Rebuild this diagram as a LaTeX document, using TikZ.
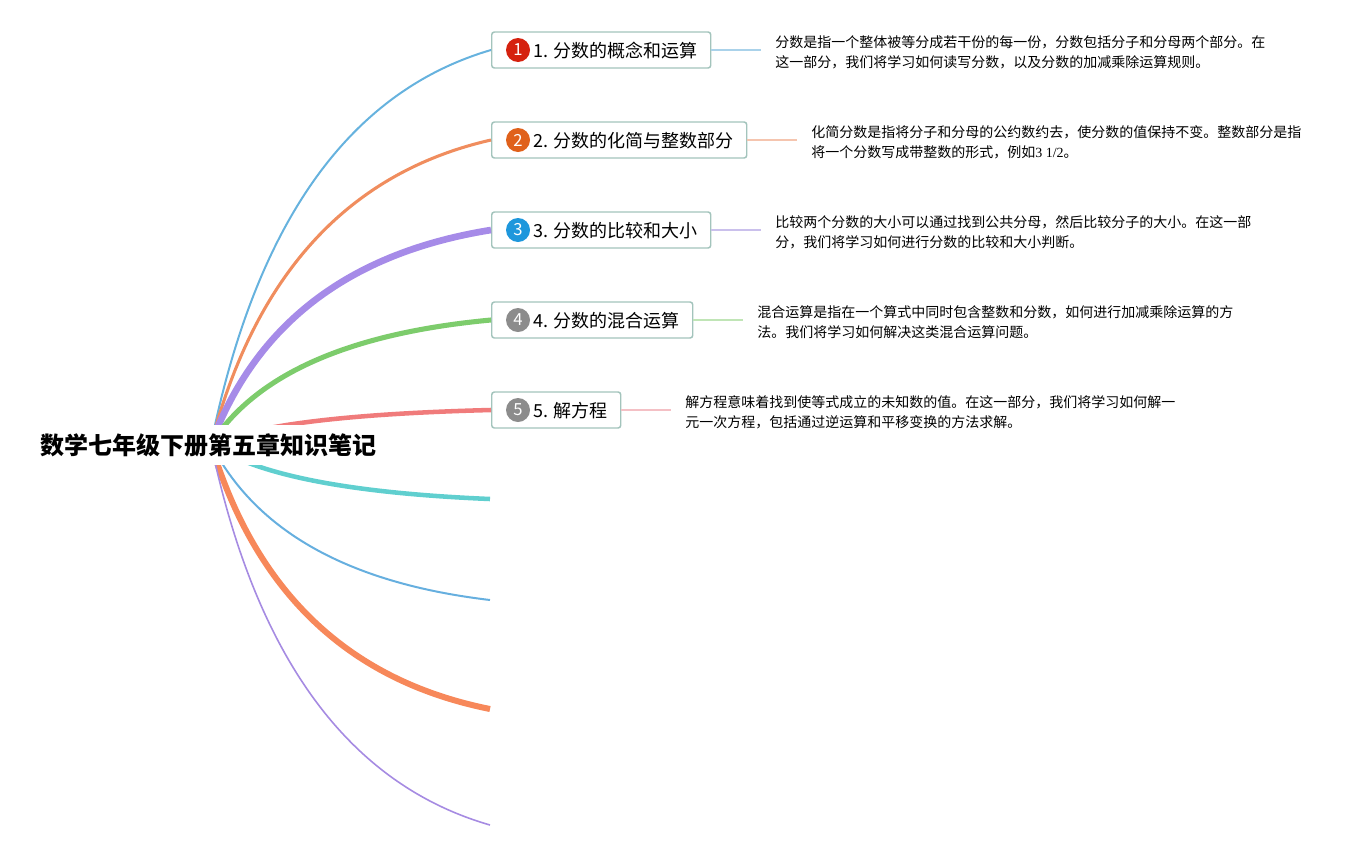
\documentclass[tikz,border=0pt]{standalone}
\usepackage{fontspec}
\setmainfont{Noto Sans CJK SC}
\newfontfamily\serifnum{Liberation Serif}
\usetikzlibrary{calc}
\definecolor{boxc}{HTML}{A3C4BC}
\definecolor{cA}{HTML}{66B2DE}
\definecolor{cB}{HTML}{F08D5E}
\definecolor{cC}{HTML}{A68BE8}
\definecolor{cD}{HTML}{7DCC6C}
\definecolor{cE}{HTML}{F07B7B}
\definecolor{cF}{HTML}{60CFCF}
\definecolor{cG}{HTML}{66AFDF}
\definecolor{cH}{HTML}{F7885A}
\definecolor{cI}{HTML}{A68BE2}
\definecolor{lA}{HTML}{AAD2EA}
\definecolor{lB}{HTML}{F5C5AF}
\definecolor{lC}{HTML}{CAC0EC}
\definecolor{lD}{HTML}{C0E5B6}
\definecolor{lE}{HTML}{F4C0C5}
\definecolor{kA}{HTML}{D5220F}
\definecolor{kB}{HTML}{E0611B}
\definecolor{kC}{HTML}{1E97DC}
\definecolor{kD}{HTML}{8C8C8C}
\tikzset{
  box/.style={draw=boxc, line width=1.1pt, rounded corners=2pt, minimum height=27pt, inner sep=0pt, anchor=west, fill=white},
  lbl/.style={font=\fontsize{13.5}{16}\selectfont, anchor=west, inner sep=0pt},
  badge/.style={circle, minimum size=18pt, inner sep=0pt, text=white, font=\fontsize{12.5}{13}\selectfont},
  desc/.style={font=\fontsize{10.5}{14.8}\selectfont, align=left, anchor=west, inner sep=0pt},
  lk/.style={line width=1pt},
  titlestyle/.style={fill=white, inner xsep=3pt, minimum height=30pt, font=\bfseries\fontsize{18}{20}\selectfont}
}
\begin{document}
\begin{tikzpicture}[x=0.75pt,y=-0.75pt]
\useasboundingbox (0,0) rectangle (1371,850);
\coordinate (root) at (211,444);
% boxes
\node[box, minimum width=164.25pt] (b1) at (491,50) {};
\node[box, minimum width=191.25pt] (b2) at (491,140) {};
\node[box, minimum width=164.25pt] (b3) at (491,230) {};
\node[box, minimum width=150.75pt] (b4) at (491,320) {};
\node[box, minimum width=96.75pt] (b5) at (491,410) {};
\coordinate (e6) at (490,499);
\coordinate (e7) at (490,600);
\coordinate (e8) at (490,709);
\coordinate (e9) at (490,825);
% badges
\node[badge, fill=kA] (k1) at ([xshift=20.25pt]b1.west) {1};
\node[badge, fill=kB] (k2) at ([xshift=20.25pt]b2.west) {2};
\node[badge, fill=kC] (k3) at ([xshift=20.25pt]b3.west) {3};
\node[badge, fill=kD] (k4) at ([xshift=20.25pt]b4.west) {4};
\node[badge, fill=kD] (k5) at ([xshift=20.25pt]b5.west) {5};
% labels
\node[lbl] (t1) at ([xshift=31.5pt,yshift=-0.5pt]b1.west) {1. 分数的概念和运算};
\node[lbl] (t2) at ([xshift=31.5pt,yshift=-0.5pt]b2.west) {2. 分数的化简与整数部分};
\node[lbl] (t3) at ([xshift=31.5pt,yshift=-0.5pt]b3.west) {3. 分数的比较和大小};
\node[lbl] (t4) at ([xshift=31.5pt,yshift=-0.5pt]b4.west) {4. 分数的混合运算};
\node[lbl] (t5) at ([xshift=31.5pt,yshift=-0.5pt]b5.west) {5. 解方程};
% descriptions
\node[desc] (d1) at (775,52) {分数是指一个整体被等分成若干份的每一份，分数包括分子和分母两个部分。在\\这一部分，我们将学习如何读写分数，以及分数的加减乘除运算规则。};
\node[desc] (d2) at (811,142) {化简分数是指将分子和分母的公约数约去，使分数的值保持不变。整数部分是指\\将一个分数写成带整数的形式，例如{\serifnum 3 1/2}。};
\node[desc] (d3) at (775,232) {比较两个分数的大小可以通过找到公共分母，然后比较分子的大小。在这一部\\分，我们将学习如何进行分数的比较和大小判断。};
\node[desc] (d4) at (757,322) {混合运算是指在一个算式中同时包含整数和分数，如何进行加减乘除运算的方\\法。我们将学习如何解决这类混合运算问题。};
\node[desc] (d5) at (685,412) {解方程意味着找到使等式成立的未知数的值。在这一部分，我们将学习如何解一\\元一次方程，包括通过逆运算和平移变换的方法求解。};
% links to descriptions
\draw[lk, lA] (b1.east) -- ($(b1.east)+(50,0)$);
\draw[lk, lB] (b2.east) -- ($(b2.east)+(50,0)$);
\draw[lk, lC] (b3.east) -- ($(b3.east)+(50,0)$);
\draw[lk, lD] (b4.east) -- ($(b4.east)+(50,0)$);
\draw[lk, lE] (b5.east) -- ($(b5.east)+(50,0)$);
% branches
\draw[cA, line width=1.5pt] (root) .. controls (255.7,223.2) and (348.7,91.7) .. (b1.west);
\draw[cB, line width=2.3pt] (root) .. controls (255.7,273.7) and (348.7,172.4) .. (b2.west);
\draw[cC, line width=5pt] (root) .. controls (255.7,324.1) and (348.7,252.8) .. (b3.west);
\draw[cD, line width=3.8pt] (root) .. controls (255.7,374.5) and (348.7,333.2) .. (b4.west);
\draw[cE, line width=3.4pt] (root) .. controls (255.7,424.9) and (348.7,413.6) .. (b5.west);
\draw[cF, line width=3.4pt] (root) .. controls (255.7,474.8) and (348.7,493.1) .. (e6);
\draw[cG, line width=1.5pt] (root) .. controls (255.7,531.3) and (348.7,583.3) .. (e7);
\draw[cH, line width=4.5pt] (root) .. controls (255.7,592.4) and (348.7,680.7) .. (e8);
\draw[cI, line width=1.2pt] (root) .. controls (255.7,657.3) and (348.7,784.3) .. (e9);
% title
\node[titlestyle] (title) at (208,445) {数学七年级下册第五章知识笔记};
\end{tikzpicture}
\end{document}
